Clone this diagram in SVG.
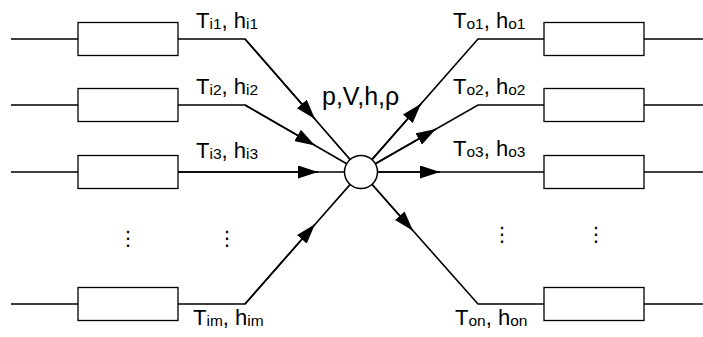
<svg xmlns="http://www.w3.org/2000/svg" width="703" height="337" viewBox="0 0 703 337">
<style>
.box{fill:#fff;stroke:#000;stroke-width:1.3}
.ln{fill:none;stroke:#000;stroke-width:1.6}
.node{fill:#fff;stroke:#000;stroke-width:1.5}
.lbl{font-family:"Liberation Sans",Arial,sans-serif;font-size:22px;fill:#000}
.sub{font-size:15.5px}
.big{font-family:"Liberation Sans",Arial,sans-serif;font-size:25px;fill:#000}
.dots{font-family:"DejaVu Sans",sans-serif;font-size:20px;fill:#000;text-anchor:middle}
</style>
<defs>
<marker id="arr" markerUnits="userSpaceOnUse" markerWidth="20" markerHeight="13" refX="20" refY="6.5" orient="auto">
<path d="M0,0 L20,6.5 L0,13 z" fill="#000"/>
</marker>
</defs>
<g id="connectors">
<path class="ln" d="M11,39 H78 M178,39 H245 L350.2,159.6"/>
<path class="ln" d="M11,105 H78 M178,105 H245 L346.7,163.8"/>
<path class="ln" d="M11,172 H78 M178,172 H344.5"/>
<path class="ln" d="M11,304 H78 M178,304 H245 L350.2,184.4"/>
<path class="ln" d="M371.9,159.6 L478,39 H544 M644,39 H703"/>
<path class="ln" d="M375.3,163.8 L478,105 H544 M644,105 H703"/>
<path class="ln" d="M377.5,172 H544 M644,172 H703"/>
<path class="ln" d="M371.9,184.3 L478,304 H544 M644,304 H703"/>
<path class="ln" marker-end="url(#arr)" d="M245,39 L315,119"/>
<path class="ln" marker-end="url(#arr)" d="M245,105 L315,145.4"/>
<path class="ln" marker-end="url(#arr)" d="M178,172 L318,172"/>
<path class="ln" marker-end="url(#arr)" d="M245,304 L315,224.3"/>
<path class="ln" marker-end="url(#arr)" d="M371.9,159.6 L421,103.8"/>
<path class="ln" marker-end="url(#arr)" d="M375.3,163.8 L436,129"/>
<path class="ln" marker-end="url(#arr)" d="M377.5,172 L440,172"/>
<path class="ln" marker-end="url(#arr)" d="M371.9,184.3 L413,230.7"/>
</g>
<g id="in1"><rect class="box" x="78" y="22.5" width="100" height="33"/></g>
<g id="in2"><rect class="box" x="78" y="88.5" width="100" height="33"/></g>
<g id="in3"><rect class="box" x="78" y="155.5" width="100" height="33"/></g>
<g id="inm"><rect class="box" x="78" y="287.5" width="100" height="33"/></g>
<g id="out1"><rect class="box" x="544" y="22.5" width="100" height="33"/></g>
<g id="out2"><rect class="box" x="544" y="88.5" width="100" height="33"/></g>
<g id="out3"><rect class="box" x="544" y="155.5" width="100" height="33"/></g>
<g id="outn"><rect class="box" x="544" y="287.5" width="100" height="33"/></g>
<g id="junction">
<circle class="node" cx="361" cy="172" r="16.5"/>
<text class="big" x="322" y="105">p,V,h,ρ</text>
</g>
<g id="labels">
<text class="lbl" x="196" y="28">T<tspan class="sub" dy="1">i1</tspan><tspan dy="-1">, h</tspan><tspan class="sub" dy="1">i1</tspan></text>
<text class="lbl" x="196" y="94">T<tspan class="sub" dy="1">i2</tspan><tspan dy="-1">, h</tspan><tspan class="sub" dy="1">i2</tspan></text>
<text class="lbl" x="196" y="158">T<tspan class="sub" dy="1">i3</tspan><tspan dy="-1">, h</tspan><tspan class="sub" dy="1">i3</tspan></text>
<text class="lbl" x="193" y="325">T<tspan class="sub" dy="1">im</tspan><tspan dy="-1">, h</tspan><tspan class="sub" dy="1">im</tspan></text>
<text class="lbl" x="453" y="28">T<tspan class="sub" dy="1">o1</tspan><tspan dy="-1">, h</tspan><tspan class="sub" dy="1">o1</tspan></text>
<text class="lbl" x="453" y="94">T<tspan class="sub" dy="1">o2</tspan><tspan dy="-1">, h</tspan><tspan class="sub" dy="1">o2</tspan></text>
<text class="lbl" x="453" y="156">T<tspan class="sub" dy="1">o3</tspan><tspan dy="-1">, h</tspan><tspan class="sub" dy="1">o3</tspan></text>
<text class="lbl" x="455" y="325">T<tspan class="sub" dy="1">on</tspan><tspan dy="-1">, h</tspan><tspan class="sub" dy="1">on</tspan></text>
<text class="dots" x="128" y="245">⋮</text>
<text class="dots" x="227" y="245">⋮</text>
<text class="dots" x="502" y="241">⋮</text>
<text class="dots" x="596" y="241">⋮</text>
</g>
</svg>
